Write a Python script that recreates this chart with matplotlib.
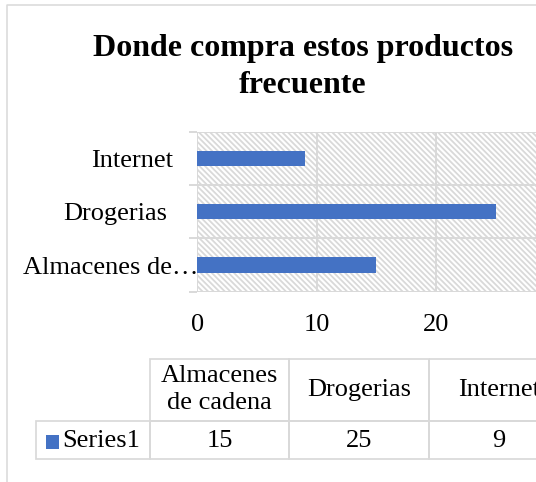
import matplotlib
matplotlib.use("Agg")
import matplotlib.pyplot as plt
from matplotlib.patches import Rectangle
from matplotlib.transforms import ScaledTranslation

plt.rcParams['font.family'] = ['Liberation Serif', 'DejaVu Serif']
plt.rcParams['hatch.linewidth'] = 1.3

# ---- data ----
categories = ["Almacenes de cadena", "Drogerias", "Internet"]
axis_labels = ["Almacenes de\u2026", "Drogerias", "Internet"]
table_headers = ["Almacenes\nde cadena", "Drogerias", "Internet"]
series_name = "Series1"
values = [15, 25, 9]
x_ticks = [0, 10, 20, 30]
title = "Donde compra estos productos\nfrecuente"

BLUE = "#4472C4"
GRID = "#d9d9d9"
W, H = 536, 482

fig = plt.figure(figsize=(W / 100, H / 100), dpi=100)

# overlay axes in pixel units for the chart frame and the data table
pax = fig.add_axes([0, 0, 1, 1], zorder=-1)
pax.set_xlim(0, W)
pax.set_ylim(H, 0)
pax.axis('off')

# chart border (left and top visible)
pax.plot([6.8, 6.8, W + 5], [H + 5, 5.1, 5.1], color=GRID, lw=1.1, clip_on=False)

# title (baseline of last line)
fig.text(302.6 / W, 1 - 93.0 / H, title, ha='center', va='baseline',
         fontsize=23, fontweight='bold', linespacing=1.35, multialignment='center')

# main axes
x0, x30 = 197.3, 555.3
top, bot = 131.7, 291.7
ax = fig.add_axes([x0 / W, 1 - bot / H, (x30 - x0) / W, (bot - top) / H])
ax.set_xlim(0, 30)
ax.set_ylim(-0.5, len(categories) - 0.5)

# hatched background
ax.add_patch(Rectangle((0, 0), 1, 1, transform=ax.transAxes, facecolor='white',
                       edgecolor=GRID, hatch='\\' * 6, linewidth=0, zorder=0))

ypos = list(range(len(categories)))
ax.barh(ypos, values, height=0.29, color=BLUE, zorder=3)

for s in ax.spines.values():
    s.set_visible(False)

ax.set_xticks(x_ticks)
ax.set_xticklabels([str(t) for t in x_ticks])
ax.grid(axis='x', color=GRID, linewidth=1.4, zorder=1)
ax.set_axisbelow(True)

ax.set_yticks(ypos)
ax.set_yticklabels(axis_labels)
ax.set_yticks([y - 0.5 for y in ypos] + [ypos[-1] + 0.5], minor=True)
ax.grid(axis='y', which='minor', color=GRID, linewidth=1.4, zorder=1)
ax.tick_params(axis='y', which='minor', length=5.8, width=1.4, color=GRID)
ax.tick_params(axis='y', which='major', length=0, pad=0, labelsize=19)
ax.tick_params(axis='x', which='major', length=0, pad=16, labelsize=19)

shifts = [1.0, -30.0, -24.0]
for lab, dx in zip(ax.get_yticklabels(), shifts):
    lab.set_transform(lab.get_transform() + ScaledTranslation(dx / 100, 0, fig.dpi_scale_trans))

# data table
row_l, c_left = 36.0, 149.7
col_w = 139.7
t_top, t_mid, t_bot = 358.8, 420.5, 459.0
TFS = 19
for i, (hdr, v) in enumerate(zip(table_headers, values)):
    cx = c_left + i * col_w
    pax.add_patch(Rectangle((cx, t_top), col_w, t_mid - t_top, facecolor='none',
                            edgecolor=GRID, lw=1.25, clip_on=False))
    pax.add_patch(Rectangle((cx, t_mid), col_w, t_bot - t_mid, facecolor='none',
                            edgecolor=GRID, lw=1.25, clip_on=False))
    pax.text(cx + col_w / 2, (t_top + t_mid) / 2, hdr, ha='center', va='center',
             fontsize=TFS, linespacing=1.28, multialignment='center', clip_on=False)
    pax.text(cx + col_w / 2, (t_mid + t_bot) / 2 + 1, str(v), ha='center', va='center',
             fontsize=TFS, clip_on=False)
pax.add_patch(Rectangle((row_l, t_mid), c_left - row_l, t_bot - t_mid, facecolor='none',
                        edgecolor=GRID, lw=1.25))
pax.add_patch(Rectangle((45.5, 435.0), 13.5, 14.0, facecolor=BLUE, edgecolor='none'))
pax.text(62.0, (t_mid + t_bot) / 2 + 1, series_name, ha='left', va='center', fontsize=TFS)

fig.savefig("out.png", dpi=100)
